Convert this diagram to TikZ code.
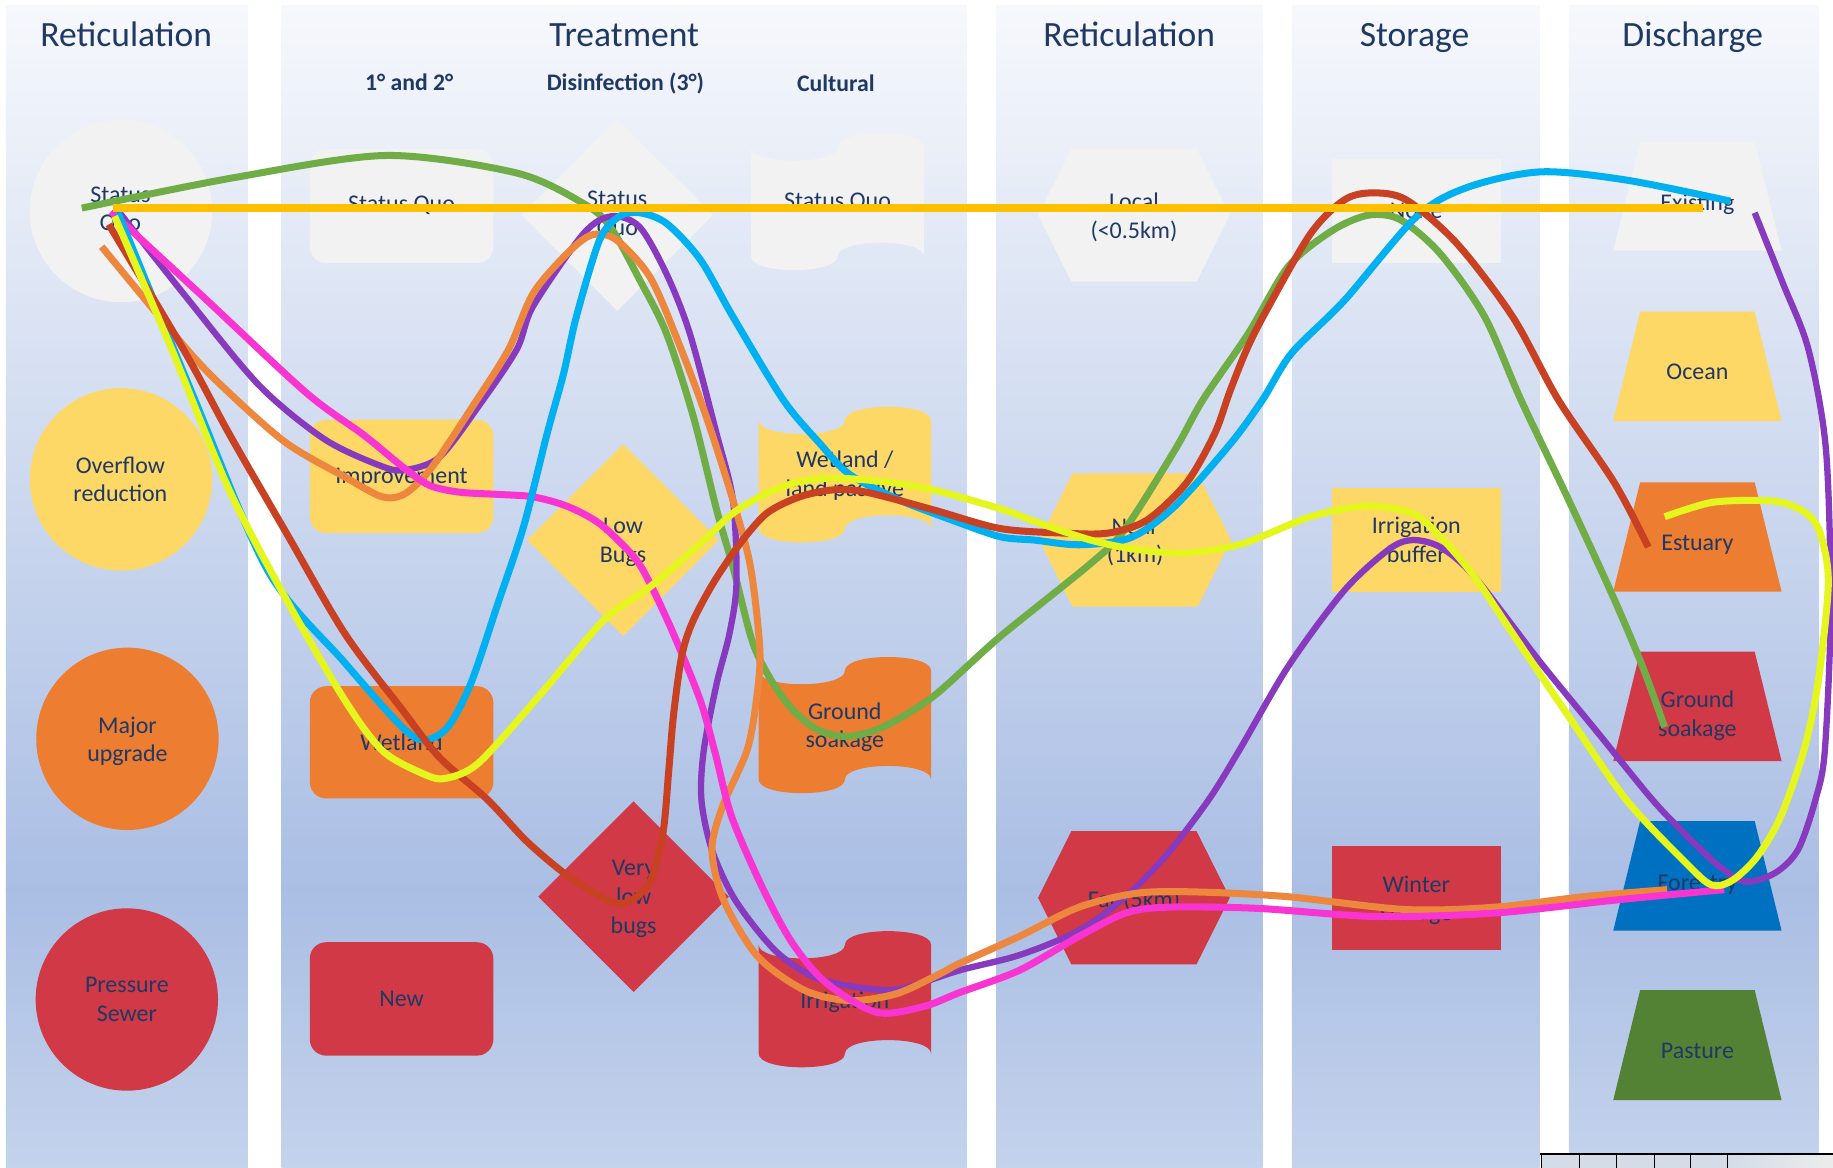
\documentclass[tikz,border=0pt]{standalone}
\usepackage{fontspec}
\setmainfont{Carlito}

\definecolor{ink}{RGB}{32,56,100}
\definecolor{panelTop}{RGB}{246,248,252}
\definecolor{panelMid}{RGB}{170,190,228}
\definecolor{panelBot}{RGB}{196,211,236}
\definecolor{optGrey}{RGB}{242,242,242}
\definecolor{optGold}{RGB}{254,216,102}
\definecolor{optOrange}{RGB}{237,125,49}
\definecolor{optRed}{RGB}{208,57,69}
\definecolor{optBlue}{RGB}{0,112,192}
\definecolor{optGreen}{RGB}{84,130,53}
\definecolor{lnGreen}{RGB}{112,173,71}
\definecolor{lnGold}{RGB}{255,192,0}
\definecolor{lnPurple}{RGB}{136,58,190}
\definecolor{lnPink}{RGB}{248,52,210}
\definecolor{lnCyan}{RGB}{0,176,240}
\definecolor{lnOrange}{RGB}{238,135,62}
\definecolor{lnRust}{RGB}{200,65,35}
\definecolor{lnLime}{RGB}{229,245,30}
\definecolor{gridCell}{RGB}{212,220,232}

% punched-tape outline: left x, right x, top y, bottom y, fill colour
\newcommand\tapeshape[5]{%
  \pgfmathsetmacro\tpH{(#4-#3)/10}%
  \pgfmathsetmacro\tpM{(#1+#2)/2}%
  \pgfmathsetmacro\tpT{#3+\tpH}%
  \pgfmathsetmacro\tpB{#4-\tpH}%
  \pgfmathsetmacro\tpC{4*\tpH/3}%
  \fill[#5] (#1,\tpT) .. controls (#1,{\tpT+\tpC}) and (\tpM,{\tpT+\tpC}) .. (\tpM,\tpT)
    .. controls (\tpM,{\tpT-\tpC}) and (#2,{\tpT-\tpC}) .. (#2,\tpT)
    -- (#2,\tpB) .. controls (#2,{\tpB-\tpC}) and (\tpM,{\tpB-\tpC}) .. (\tpM,\tpB)
    .. controls (\tpM,{\tpB+\tpC}) and (#1,{\tpB+\tpC}) .. (#1,\tpB) -- cycle;}
% hexagon: centre x, centre y, fill colour
\newcommand\hexshape[3]{\fill[#3] ({#1-82},#2) -- ({#1-53.5},{#2-57}) -- ({#1+53.5},{#2-57})
    -- ({#1+82},#2) -- ({#1+53.5},{#2+57}) -- ({#1-53.5},{#2+57}) -- cycle;}
% trapezoid: centre x, top y, bottom y, fill colour
\newcommand\trapshape[4]{\fill[#4] ({#1-49},#2) -- ({#1+49},#2) -- ({#1+72},#3) -- ({#1-72},#3) -- cycle;}
% diamond: centre x, centre y, half size, fill colour
\newcommand\diashape[4]{\fill[#4] (#1,{#2-#3}) -- ({#1+#3},#2) -- (#1,{#2+#3}) -- ({#1-#3},#2) -- cycle;}

\begin{document}
\begin{tikzpicture}[x=1pt,y=-1pt,
  lbl/.style={font=\fontsize{20.5}{24.5}\selectfont, text=ink, align=center, inner sep=0pt},
  head/.style={font=\fontsize{30.4}{36}\selectfont, text=ink, anchor=base, inner sep=0pt},
  subhead/.style={font=\bfseries\fontsize{20.3}{24}\selectfont, text=ink, anchor=base, inner sep=0pt},
  route/.style={line width=6pt, line join=round},
  box/.style={rounded corners=14pt}]

\useasboundingbox (0,0) rectangle (1568,999);
\fill[white] (0,0) rectangle (1568,999);

% column panels
\foreach \a/\b in {5/212, 241/827, 852/1080, 1105/1317, 1342/1556} {
  \shade[top color=panelTop, bottom color=panelMid] (\a,5) rectangle (\b,761);
  \shade[top color=panelMid, bottom color=panelBot] (\a,760) rectangle (\b,999);
}

% spreadsheet strip along the lower right edge
\fill[gridCell] (1318,988) rectangle (1478,999);
\shade[left color=gridCell, right color=white!85!gray] (1478,988) rectangle (1568,999);
\draw[black, line width=1.6pt] (1317,987.5) -- (1568,987.5);
\foreach \gx in {1318.5,1351,1383,1415,1446,1478}
  \draw[black, line width=1.1pt] (\gx,987.5) -- (\gx,999);

% headings
\node[head] (hRet1) at (108,40) {Reticulation};
\node[head] (hTreat) at (534,40) {Treatment};
\node[head] (hRet2) at (966,40) {Reticulation};
\node[head] (hStore) at (1210,40) {Storage};
\node[head] (hDis) at (1448,40) {Discharge};
\node[subhead] (hPrim) at (350,77.5) {1° and 2°};
\node[subhead] (hDisinf) at (535,77.5) {Disinfection (3°)};
\node[subhead] (hCult) at (715,78) {Cultural};

% reticulation options
\fill[optGrey] (103.5,180.5) circle[radius=78];
\fill[optGold] (103.5,410) circle[radius=78];
\fill[optOrange] (109,632) circle[radius=78];
\fill[optRed] (108.5,855) circle[radius=78];

% primary and secondary treatment
\fill[optGrey, box] (265,127.5) rectangle (422,225);
\fill[optGold, box] (265,359) rectangle (422,456);
\fill[optOrange, box] (265,587) rectangle (422,683);
\fill[optRed, box] (265,806) rectangle (422,903);

% disinfection
\diashape{528}{184}{82}{optGrey}
\diashape{533}{462}{82}{optGold}
\diashape{542}{767}{81.5}{optRed}

% cultural
\tapeshape{642.5}{790.5}{114}{231}{optGrey}
\tapeshape{649}{796.5}{348}{464}{optGold}
\tapeshape{649}{796.5}{562}{678.5}{optOrange}
\tapeshape{649}{796.5}{796.5}{913}{optRed}

% reticulation distance
\hexshape{970}{184}{optGrey}
\hexshape{971}{462}{optGold}
\hexshape{970}{768}{optRed}

% storage
\fill[optGrey] (1139.3,136) rectangle (1283.7,224.7);
\fill[optGold] (1139.3,417.2) rectangle (1283.7,506);
\fill[optRed] (1139.3,723.7) rectangle (1283.7,812.7);

% discharge
\trapshape{1452}{121.2}{214.4}{optGrey}
\trapshape{1452}{266.6}{360.2}{optGold}
\trapshape{1452}{412.6}{506.1}{optOrange}
\trapshape{1452}{557.5}{651}{optRed}
\trapshape{1452}{702.3}{796.1}{optBlue}
\trapshape{1452}{847}{941}{optGreen}

% option labels
\node[lbl] (retSQ) at (103,180) {Status\\Quo};
\node[lbl] (retOver) at (103,410) {Overflow\\reduction};
\node[lbl] (retMajor) at (109,634) {Major\\upgrade};
\node[lbl] (retPress) at (108.5,855) {Pressure\\Sewer};
\node[lbl] (primSQ) at (343.5,176) {Status Quo};
\node[lbl] (primImp) at (343.5,409) {Improvement};
\node[lbl] (primWet) at (343.5,635) {Wetland};
\node[lbl] (primNew) at (343.5,854.5) {New};
\node[lbl] (disSQ) at (528,184) {Status\\Quo};
\node[lbl] (disLow) at (533,464) {Low\\Bugs};
\node[lbl] (disVery) at (542,769) {Very\\low\\bugs};
\node[lbl] (culSQ) at (716.5,173) {Status Quo};
\node[lbl] (culWet) at (722.7,407) {Wetland /\\land passive};
\node[lbl] (culSoak) at (722.7,622) {Ground\\soakage};
\node[lbl] (culIrr) at (722.7,857) {Irrigation};
\node[lbl] (distLocal) at (970,186) {Local\\(<0.5km)};
\node[lbl] (distNear) at (971,464) {Near\\(1km)};
\node[lbl] (distFar) at (970,770) {Far (5km)};
\node[lbl] (stNone) at (1211.5,180) {None};
\node[lbl] (stIrr) at (1211.5,462) {Irrigation\\buffer};
\node[lbl] (stWinter) at (1211.5,770) {Winter\\storage};
\node[lbl] (dcExist) at (1452,175) {Existing};
\node[lbl] (dcOcean) at (1452,318) {Ocean};
\node[lbl] (dcEst) at (1452,466) {Estuary};
\node[lbl] (dcSoak) at (1452,612) {Ground\\soakage};
\node[lbl] (dcForest) at (1452,757) {Forestry};
\node[lbl] (dcPasture) at (1452,899) {Pasture};

% scenario pathways
\draw[route, lnGreen] plot[smooth] coordinates {(70,178) (200,152) (330,133) (442,148) (499,174) (522,194) (547,239) (570,285) (593,356) (613,436) (627,485) (644,550) (661,584) (678,607) (699,624) (724,630) (755,622) (798,596) (855,545) (933,482) (962,453) (1005,385) (1029,342) (1068,285) (1102,228) (1140,197) (1171,184) (1198,188) (1232,217) (1270,271) (1301,342) (1342,428) (1381,513) (1405,570) (1424,622)};

\draw[route, lnPurple, line width=5.4pt] plot[smooth] coordinates {(100,179) (160,255) (222,330) (278,376) (327,399) (347,402) (376,391) (409,348) (442,299) (456,262) (499,200) (523,185) (547,194) (570,234) (590,285) (613,371) (627,428) (630,499) (624,542) (613,585) (602,642) (600,684) (609,727) (629,770) (663,813) (697,836) (737,845) (770,846) (821,830) (872,817) (923,796) (963,767) (999,730) (1034,684) (1060,642) (1102,570) (1150,505) (1188,470) (1208,462) (1232,468) (1261,493) (1318,567) (1367,627) (1410,680) (1432,704) (1467,738) (1492,754) (1518,747) (1538,727) (1553,684) (1561,642) (1566,520) (1562,385) (1547,299) (1525,242) (1501,182)};

\draw[route, lnOrange] plot[smooth] coordinates {(87,211) (160,299) (196,336) (245,379) (295,408) (327,425) (347,422) (370,399) (406,345) (435,299) (456,251) (485,217) (506,201) (527,205) (556,237) (580,292) (604,356) (627,428) (642,485) (650,556) (647,599) (639,642) (618,690) (609,727) (619,770) (648,818) (688,847) (727,856) (767,850) (804,833) (821,824) (872,801) (923,776) (973,764) (1024,763) (1101,767) (1202,778) (1279,776) (1355,767) (1426,761)};

\draw[route, lnPink] plot[smooth] coordinates {(95,181) (175,255) (262,336) (311,372) (344,399) (367,415) (393,421) (428,423) (456,425) (485,433) (513,448) (542,476) (556,499) (576,542) (599,599) (612,645) (626,699) (653,761) (678,807) (707,841) (750,866) (790,861) (821,849) (872,830) (923,801) (963,781) (999,776) (1075,777) (1177,784) (1279,781) (1381,770) (1475,761)};

\draw[route, lnCyan] plot[smooth] coordinates {(101,182) (165,338) (229,488) (295,567) (344,622) (363,633) (383,622) (403,584) (426,516) (448,450) (468,371) (482,320) (493,271) (513,205) (530,185) (547,182) (570,191) (599,222) (627,271) (670,342) (701,379) (727,406) (770,428) (812,444) (855,459) (885,462) (923,466) (967,460) (1005,433) (1053,379) (1080,342) (1105,302) (1150,257) (1212,185) (1256,160) (1318,147) (1391,154) (1480,172)};

\draw[route, lnRust] plot[smooth] coordinates {(93,192) (157,299) (196,371) (245,456) (295,542) (344,607) (376,648) (417,684) (452,721) (491,753) (530,773) (555,756) (567,713) (572,660) (576,613) (583,562) (592,533) (610,499) (633,465) (656,439) (684,425) (713,419) (741,421) (798,436) (855,452) (909,456) (948,456) (981,445) (1015,413) (1039,371) (1052,335) (1066,300) (1082,268) (1121,200) (1150,171) (1174,165) (1203,171) (1246,208) (1294,271) (1333,342) (1381,413) (1410,468)};

\draw[route, lnLime] plot[smooth] coordinates {(98,185) (147,299) (196,419) (245,513) (295,599) (327,642) (360,661) (380,666) (409,653) (458,599) (485,567) (519,528) (556,502) (599,465) (627,439) (656,422) (684,412) (713,409) (756,412) (798,419) (855,435) (885,446) (933,462) (972,470) (1015,473) (1063,465) (1121,442) (1169,433) (1208,439) (1232,459) (1261,493) (1294,542) (1342,613) (1391,684) (1442,738) (1464,757) (1482,753) (1503,733) (1523,699) (1543,642) (1555,585) (1564,499) (1557,456) (1545,439) (1525,430) (1502,428) (1463,430) (1424,442)};

\draw[route, lnGold, line width=7pt] (97,178) -- (1457,178);

\end{tikzpicture}
\end{document}
